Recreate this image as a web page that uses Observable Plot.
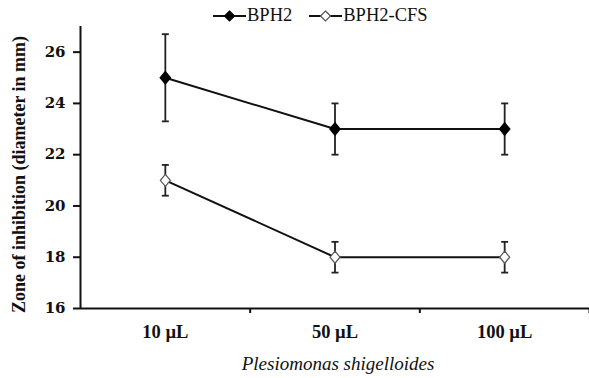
<!DOCTYPE html>
<html><head><meta charset="utf-8">
<script src="https://cdn.jsdelivr.net/npm/d3@7"></script>
<script src="https://cdn.jsdelivr.net/npm/@observablehq/plot@0.6"></script>
<style>
body{margin:0;background:#fff}
#wrap{position:relative;width:589px;height:378px;font-family:"Liberation Serif","Times New Roman",serif}
#legend{position:absolute;top:5px;left:213px;display:flex;align-items:center;font-size:18.5px;color:#111}
#legend .item{display:flex;align-items:center;margin-right:17px}
#legend svg{margin-right:1px}
</style></head>
<body><div id="wrap"><div id="legend"></div></div>
<script>
const categories = ["10 µL", "50 µL", "100 µL"];
const seriesNames = ["BPH2", "BPH2-CFS"];
const bph2 = [25, 23, 23];
const bph2Err = [1.7, 1.0, 1.0];
const cfs = [21, 18, 18];
const cfsErr = [0.6, 0.6, 0.6];
const yTicks = [16, 18, 20, 22, 24, 26];
const xTitle = "Plesiomonas shigelloides";
const yTitle = "Zone of inhibition (diameter in mm)";

const rows = [];
categories.forEach((c, i) => {
  rows.push({cat: c, pos: i + 0.5, series: seriesNames[0], value: bph2[i], err: bph2Err[i]});
  rows.push({cat: c, pos: i + 0.5, series: seriesNames[1], value: cfs[i], err: cfsErr[i]});
});
const catPos = categories.map((c, i) => i + 0.5);
const boundaries = categories.map((c, i) => i + 1);

const cap = {draw(ctx, size) { const r = Math.sqrt(size / Math.PI); ctx.moveTo(-r, 0); ctx.lineTo(r, 0); }};
const diamond = {draw(ctx, size) { const r = Math.sqrt(size / Math.PI); const h = r * 1.2; ctx.moveTo(0, -h); ctx.lineTo(r, 0); ctx.lineTo(0, h); ctx.lineTo(-r, 0); ctx.closePath(); }};

const font = '"Liberation Serif","Times New Roman",serif';
const tickFont = '"DejaVu Serif",serif';
const chart = Plot.plot({
  width: 589, height: 378,
  marginLeft: 80, marginRight: 0, marginTop: 26, marginBottom: 70,
  style: {fontFamily: font, fontSize: "18px", color: "#111", background: "#fff"},
  x: {domain: [0, 3], axis: null},
  y: {domain: [16, 27], axis: null},
  marks: [
    Plot.axisY({ticks: yTicks, tickSize: 7, tickPadding: 8, strokeWidth: 2, fontFamily: tickFont, fontWeight: "bold", fontSize: "15px", label: null}),
    Plot.axisX({ticks: boundaries, tickSize: 5, strokeWidth: 2, tickFormat: () => "", label: null}),
    Plot.axisX({ticks: catPos, tickSize: 0, tickPadding: 16, tickFormat: (d) => categories[Math.round(d - 0.5)], fontFamily: font, fontWeight: "bold", fontSize: "18.5px", label: null}),
    Plot.ruleX([0], {strokeWidth: 2, stroke: "#111"}),
    Plot.ruleY([16], {strokeWidth: 2, stroke: "#111"}),
    Plot.ruleX(rows, {x: "pos", y1: (d) => d.value - d.err, y2: (d) => d.value + d.err, stroke: "#222", strokeWidth: 1.8}),
    Plot.dot(rows, {x: "pos", y: (d) => d.value - d.err, symbol: cap, r: 3.5, stroke: "#222", strokeWidth: 1.8}),
    Plot.dot(rows, {x: "pos", y: (d) => d.value + d.err, symbol: cap, r: 3.5, stroke: "#222", strokeWidth: 1.8}),
    Plot.line(rows, {x: "pos", y: "value", z: "series", stroke: "#111", strokeWidth: 2}),
    Plot.dot(rows.filter(d => d.series === seriesNames[0]), {x: "pos", y: "value", symbol: diamond, r: 5, fill: "#000", stroke: "#000"}),
    Plot.dot(rows.filter(d => d.series === seriesNames[1]), {x: "pos", y: "value", symbol: diamond, r: 5, fill: "#fff", stroke: "#555", strokeWidth: 1.2}),
    Plot.text([yTitle], {frameAnchor: "left", textAnchor: "middle", dx: -61, dy: 7, rotate: -90, fontWeight: "bold", fontSize: "18px", fill: "#111"}),
    Plot.text([xTitle], {frameAnchor: "bottom", dy: 61, dx: 3, fontStyle: "italic", fontSize: "19px", fill: "#111"})
  ]
});
document.getElementById("wrap").appendChild(chart);

const legend = document.getElementById("legend");
seriesNames.forEach((s, i) => {
  const item = document.createElement("div");
  item.className = "item";
  const fill = i === 0 ? "#000" : "#fff";
  const stroke = i === 0 ? "#000" : "#555";
  item.innerHTML = `<svg width="33" height="14"><line x1="0" y1="7" x2="33" y2="7" stroke="#111" stroke-width="2"/><path d="M16.5,2L21.5,7L16.5,12L11.5,7Z" fill="${fill}" stroke="${stroke}" stroke-width="1.2"/></svg><span>${s}</span>`;
  legend.appendChild(item);
});
</script>
</body></html>
